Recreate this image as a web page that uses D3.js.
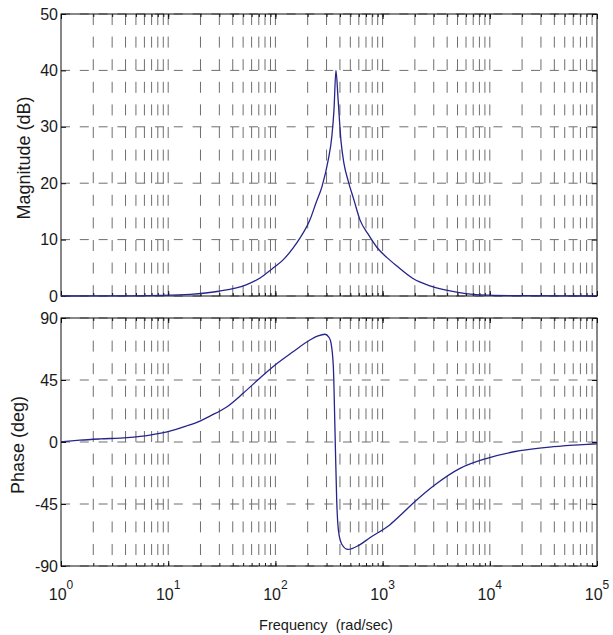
<!DOCTYPE html>
<html>
<head>
<meta charset="utf-8">
<script src="https://cdn.jsdelivr.net/npm/d3@7"></script>
<style>
body { margin: 0; background: #fff; }
svg { display: block; font-family: "Liberation Sans", Arial, Helvetica, sans-serif; }
</style>
</head>
<body>
<div id="chart"></div>
<script>
// Betrag (dB) über der Frequenz
const magFreq = [1, 3.5, 8.4, 16, 28.5, 54, 72, 93, 118, 146, 170, 210, 239, 272, 310, 337, 352, 367,
    384, 409, 436, 476, 541, 615, 731, 887, 1100, 1360, 1920, 2770, 4250, 8100, 19000, 100000];
const magDb = [0, 0.02, 0.1, 0.3, 0.8, 2.0, 3.2, 4.8, 6.4, 8.5, 10.3, 13.5, 16.5, 19.4, 24, 28.5, 33, 40,
    35, 27.5, 23.5, 20.5, 17, 13.5, 11, 8.6, 6.8, 5.3, 3.1, 1.8, 0.9, 0.2, 0.05, 0];

// Phase (deg) über der Frequenz
const phaseFreq = [1, 1.5, 2.31, 4.13, 6.76, 9.75, 15, 19.8, 24.5, 35.4, 49.9, 71.8, 103.5, 146, 210, 250,
    290, 316, 330, 347, 360, 373, 387, 415, 476, 600, 760, 1172, 1500, 1922, 3083, 5272, 9418, 19140, 38900, 80700, 100000];
const phaseDeg = [0.2, 1.3, 2.2, 3.2, 5, 7.3, 11.8, 15.2, 18.8, 25.6, 35.3, 46.5, 57, 65.5, 74, 77,
    78.2, 76, 72, 55, 7, -42, -64, -74, -78, -75, -69.5, -60, -52.5, -44.5, -31, -19.1, -11.8, -6.3, -3.4, -1.7, -1.3];

// Achsenbeschriftungen
const magTicks = [0, 10, 20, 30, 40, 50];
const phaseTicks = [-90, -45, 0, 45, 90];
const decadeExp = [0, 1, 2, 3, 4, 5];

const width = 613, height = 635;
const svg = d3.select("#chart").append("svg")
    .attr("width", width)
    .attr("height", height);

svg.append("rect").attr("width", width).attr("height", height).attr("fill", "#fff");

const x = d3.scaleLog().domain([1, 1e5]).range([61, 597]);

// Gitterlinien bei 1..9 * 10^n
const gridFreq = [];
decadeExp.slice(0, 5).forEach(function(e){
    for (let k = 1; k <= 9; k++) gridFreq.push(k * Math.pow(10, e));
});
const decadeVals = decadeExp.map(e => Math.pow(10, e));

const gridColor = "#6e6e6e";
const lineColor = "#25258c";

function drawPanel(y, ticks, freq, vals, labelText, labelX, showXLabels){
    const top = y.range()[1], bottom = y.range()[0];
    const left = x.range()[0], right = x.range()[1];
    const g = svg.append("g");

    // vertikale Gitterlinien
    g.selectAll(".vgrid").data(gridFreq.filter(f => f > 1)).enter().append("line")
        .attr("x1", d => x(d)).attr("x2", d => x(d))
        .attr("y1", top).attr("y2", bottom)
        .attr("stroke", gridColor).attr("stroke-width", 1)
        .attr("stroke-dasharray", "11,11.6");

    // horizontale Gitterlinien
    g.selectAll(".hgrid").data(ticks).enter().append("line")
        .attr("x1", left).attr("x2", right)
        .attr("y1", d => y(d)).attr("y2", d => y(d))
        .attr("stroke", gridColor).attr("stroke-width", 1)
        .attr("stroke-dasharray", "9,9.8");

    // Rahmen
    g.append("rect")
        .attr("x", left).attr("y", top)
        .attr("width", right - left).attr("height", bottom - top)
        .attr("fill", "none").attr("stroke", "#111").attr("stroke-width", 1);

    // Ticks nach innen, Beschriftung mit normalem Bindestrich
    const ay = g.append("g").attr("transform", "translate(" + left + ",0)")
        .call(d3.axisLeft(y).tickValues(ticks).tickSizeInner(-5).tickSizeOuter(0)
            .tickPadding(3).tickFormat(d => String(d)));
    g.append("g").attr("transform", "translate(" + right + ",0)")
        .call(d3.axisRight(y).tickValues(ticks).tickSizeInner(-5).tickSizeOuter(0).tickFormat(""));
    ay.selectAll("text").attr("font-size", 16).attr("fill", "#1a1a1a")
        .attr("font-family", "'Liberation Sans', Arial, sans-serif");

    g.append("g").attr("transform", "translate(0," + bottom + ")")
        .call(d3.axisBottom(x).tickValues(gridFreq).tickSize(-3).tickFormat(""));
    g.append("g").attr("transform", "translate(0," + top + ")")
        .call(d3.axisTop(x).tickValues(gridFreq).tickSize(-3).tickFormat(""));
    g.append("g").attr("transform", "translate(0," + bottom + ")")
        .call(d3.axisBottom(x).tickValues(decadeVals).tickSize(-5).tickFormat(""));
    g.append("g").attr("transform", "translate(0," + top + ")")
        .call(d3.axisTop(x).tickValues(decadeVals).tickSize(-5).tickFormat(""));

    g.selectAll(".domain").remove();
    g.selectAll(".tick line").attr("stroke", "#111");

    // Kurve
    const data = freq.map((f, i) => ({f: f, v: vals[i]}));
    const line = d3.line()
        .x(d => x(d.f))
        .y(d => y(d.v))
        .curve(d3.curveMonotoneX);
    g.append("path").datum(data)
        .attr("d", line)
        .attr("fill", "none")
        .attr("stroke", lineColor)
        .attr("stroke-width", 1.3);

    // y-Beschriftung
    const cy = (top + bottom) / 2 + 3;
    g.append("text")
        .attr("transform", "translate(" + labelX + "," + cy + ") rotate(-90)")
        .attr("text-anchor", "middle")
        .attr("font-size", 18)
        .attr("fill", "#1a1a1a")
        .text(labelText);

    if (showXLabels){
        const lab = g.selectAll(".xlab").data(decadeExp).enter().append("text")
            .attr("x", d => x(Math.pow(10, d)))
            .attr("y", bottom + 34)
            .attr("text-anchor", "middle")
            .attr("fill", "#1a1a1a");
        lab.append("tspan").attr("font-size", 16).text("10");
        lab.append("tspan").attr("font-size", 12).attr("dy", -11).text(d => d);
    }
}

const yMag = d3.scaleLinear().domain([0, 50]).range([296, 14]);
const yPhase = d3.scaleLinear().domain([-90, 90]).range([566, 318]);

drawPanel(yMag, magTicks, magFreq, magDb, "Magnitude (dB)", 30, false);
drawPanel(yPhase, phaseTicks, phaseFreq, phaseDeg, "Phase (deg)", 24, true);

svg.append("text")
    .attr("x", 326)
    .attr("y", 630)
    .attr("text-anchor", "middle")
    .attr("font-size", 14.5)
    .attr("fill", "#1a1a1a")
    .style("white-space", "pre")
    .text("Frequency  (rad/sec)");
</script>
</body>
</html>
